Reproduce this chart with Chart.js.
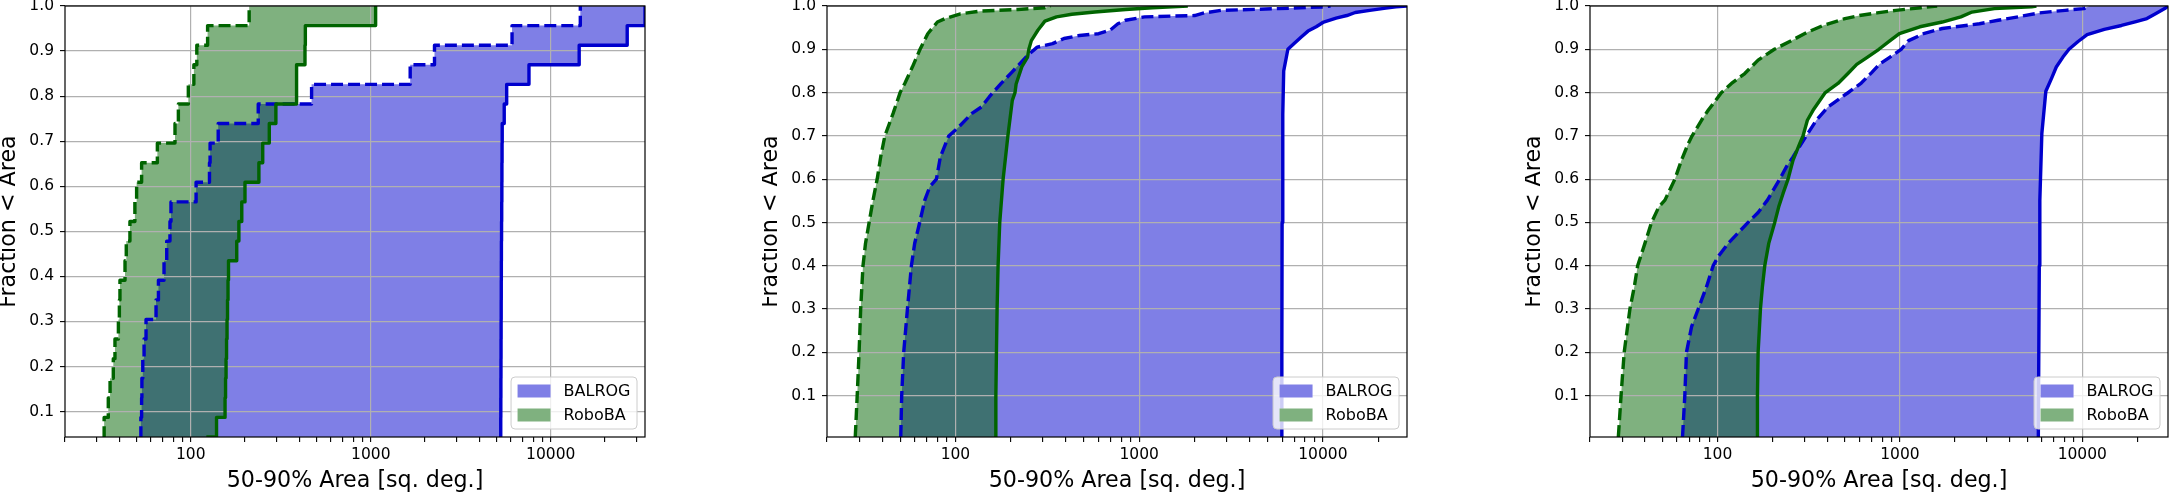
<!DOCTYPE html>
<html lang="en">
<head>
<meta charset="UTF-8">
<title>50-90% Area</title>
<script src="https://cdn.jsdelivr.net/npm/chart.js"></script>
<style>
  html, body { margin: 0; padding: 0; background: #fff; }
  body { width: 2170px; height: 493px; position: relative; overflow: hidden; }
  canvas { position: absolute; top: 0; }
</style>
</head>
<body>
<canvas id="panel1"></canvas>
<canvas id="panel2"></canvas>
<canvas id="panel3"></canvas>
<script>
// ---------------- data ----------------
const seriesNames = ['BALROG', 'RoboBA'];

const xTickValues = [20, 30, 40, 50, 60, 70, 80, 90,
  100, 200, 300, 400, 500, 600, 700, 800, 900,
  1000, 2000, 3000, 4000, 5000, 6000, 7000, 8000, 9000,
  10000, 20000, 30000];
const xMajorTicks = [100, 1000, 10000];
const yTickValues = [0.1, 0.2, 0.3, 0.4, 0.5, 0.6, 0.7, 0.8, 0.9, 1.0];

// panel 1: 23 events, step curves
const p1Frac = [0.0435, 0.0870, 0.1304, 0.1739, 0.2174, 0.2609, 0.3043, 0.3478, 0.3913, 0.4348,
  0.4783, 0.5217, 0.5652, 0.6087, 0.6522, 0.6957, 0.7391, 0.7826, 0.8261, 0.8696, 0.9130, 0.9565, 1.0];
const p1Balrog50 = [52.0, 52.8, 53.3, 53.5, 54.1, 55.0, 56.4, 64.1, 66.1, 71.0, 73.5, 76.6, 77.6,
  107, 127, 128, 142, 237, 469, 1656, 2260, 6095, 14600];
const p1Balrog90 = [5270, 5275, 5280, 5285, 5290, 5295, 5300, 5305, 5310, 5315, 5320, 5330, 5340,
  5350, 5355, 5365, 5375, 5515, 5690, 7570, 14390, 26600, 33400];
const p1Roboba50 = [32.5, 33.0, 34.8, 35.6, 37.1, 37.9, 39.6, 40.1, 40.4, 43.1, 43.8, 45.9, 48.9,
  50.0, 53.3, 65.2, 81.7, 85.3, 96.9, 104, 108, 124, 211];
const p1Roboba90 = [122, 139, 155, 156, 157, 158, 159, 160, 161, 162, 180, 185, 192,
  200, 239, 251, 273, 297, 387, 387, 431, 433, 1064];

// panel 2
const p2Balrog50Area = [50.4, 51.0, 52.3, 54.8, 57.6, 60.0, 63.9, 68.1, 72.5, 78.8, 82.8, 92, 103.9, 123,
  138.7, 152.7, 176.4, 203.8, 224.4, 247, 278.7, 338, 390, 473, 602, 695, 766, 843, 1072, 2005, 2260,
  2806, 5780, 10290, 11000];
const p2Balrog50Frac = [0.0046, 0.1, 0.2, 0.3, 0.4, 0.4515, 0.5, 0.5515, 0.5823, 0.6, 0.6515, 0.7, 0.72, 0.752,
  0.767, 0.79, 0.82, 0.848, 0.867, 0.886, 0.905, 0.913, 0.925, 0.932, 0.936, 0.944, 0.959, 0.967, 0.975, 0.978, 0.984,
  0.99, 0.994, 0.998, 1.0];
const p2Balrog90Area = [5950, 5980, 6000, 6050, 6120, 6450, 6950, 7600, 8300, 9200, 10100, 11800, 13500,
  15000, 18000, 22000, 25000, 28700];
const p2Balrog90Frac = [0.0046, 0.2, 0.5, 0.75, 0.85, 0.9, 0.913, 0.928, 0.942, 0.952, 0.963, 0.972, 0.978,
  0.985, 0.99, 0.995, 0.998, 1.0];
const p2Roboba50Area = [28.5, 29.2, 29.9, 30.5, 31.4, 32.4, 33.9, 35.6, 37.5, 39.2, 41.3, 45.8, 50.0, 53.0,
  58.3, 64.2, 70.7, 79.8, 87.9, 106.5, 135.5, 219, 307, 330];
const p2Roboba50Frac = [0.0046, 0.1, 0.2, 0.3, 0.4, 0.4515, 0.5, 0.5515, 0.6, 0.6515, 0.7, 0.752, 0.8, 0.821,
  0.859, 0.9, 0.936, 0.963, 0.971, 0.982, 0.988, 0.992, 0.996, 1.0];
const p2Roboba90Area = [165.8, 166.0, 167.2, 168.6, 170.7, 174.3, 181.8, 193, 204, 211, 214, 230, 247, 251,
  259, 281, 307, 355, 430, 574, 844, 1181, 1840];
const p2Roboba90Frac = [0.0046, 0.1, 0.2, 0.3, 0.4, 0.5, 0.6, 0.7, 0.782, 0.8, 0.82, 0.86, 0.882, 0.9,
  0.92, 0.944, 0.965, 0.975, 0.981, 0.986, 0.992, 0.996, 1.0];

// panel 3
const p3Balrog50Area = [64.3, 66.2, 67.6, 72.1, 78.4, 87.1, 94.7, 100.8, 114.4, 147.2, 167, 187.8, 219.4,
  238.7, 259.6, 288.4, 307, 348, 403.6, 517, 614, 700, 775, 883, 1016, 1117, 1348, 1707, 2731, 3453, 4583,
  5796, 8055, 10190, 10940];
const p3Balrog50Frac = [0.0042, 0.1, 0.2, 0.259, 0.3, 0.3515, 0.4, 0.4208, 0.4515, 0.5, 0.523, 0.5515, 0.6,
  0.6285, 0.6515, 0.6823, 0.7, 0.736, 0.767, 0.799, 0.822, 0.846, 0.866, 0.882, 0.9, 0.92, 0.936, 0.948, 0.959,
  0.967, 0.976, 0.984, 0.99, 0.994, 1.0];
const p3Balrog90Area = [5740, 5810, 5850, 6000, 6310, 6800, 7200, 7830, 8450, 9480, 10630, 13200, 16400,
  19700, 22600, 25200, 28300, 29500];
const p3Balrog90Frac = [0.0042, 0.4, 0.55, 0.705, 0.803, 0.834, 0.859, 0.882, 0.9, 0.918, 0.934, 0.946, 0.955,
  0.964, 0.971, 0.982, 0.994, 1.0];
const p3Roboba50Area = [28.6, 29.6, 30.8, 33.1, 35.0, 36.5, 40.0, 43.5, 47.7, 51.5, 58.4, 63.5, 69.1, 72.6,
  81.7, 88.9, 105.2, 119.3, 141.1, 167, 205, 254, 313, 380, 500, 600, 750, 950, 1300, 1600];
const p3Roboba50Frac = [0.0042, 0.1, 0.2, 0.3, 0.3515, 0.4, 0.4515, 0.5, 0.536, 0.5515, 0.6, 0.644, 0.682, 0.7,
  0.736, 0.759, 0.8, 0.821, 0.844, 0.875, 0.9, 0.92, 0.94, 0.955, 0.971, 0.978, 0.984, 0.99, 0.996, 1.0];
const p3Roboba90Area = [164.9, 165.6, 167, 172, 176.3, 181.6, 191, 206, 216.6, 228.8, 243.7, 259.6, 282.3,
  294.4, 311, 334, 390, 457.7, 519, 580, 665, 767, 883, 993, 1286, 1706, 2160, 2486, 3295, 5270, 5600];
const p3Roboba90Frac = [0.0042, 0.1, 0.2, 0.3, 0.3515, 0.4, 0.4515, 0.5, 0.536, 0.567, 0.6, 0.644, 0.682,
  0.7, 0.736, 0.759, 0.8, 0.821, 0.844, 0.865, 0.882, 0.9, 0.92, 0.936, 0.952, 0.963, 0.975, 0.986, 0.994, 0.998, 1.0];

// ---------------- styling ----------------
const balrogLine = 'rgb(0,0,205)';
const balrogFill = 'rgba(0,0,205,0.5)';
const robobaLine = 'rgb(0,100,0)';
const robobaFill = 'rgba(0,100,0,0.5)';

Chart.defaults.font.family = '"DejaVu Sans", sans-serif';
Chart.defaults.color = '#000';

function pts(area, frac) {
  return area.map((a, i) => ({ x: a, y: frac[i] }));
}

// black box round the plot area
const framePlugin = {
  id: 'frame',
  afterDatasetsDraw(chart) {
    const { ctx, chartArea: a } = chart;
    ctx.save();
    ctx.strokeStyle = '#000';
    ctx.lineWidth = 1.2;
    ctx.strokeRect(a.left, a.top, a.right - a.left, a.bottom - a.top);
    ctx.restore();
  }
};

// matplotlib-like legend box, lower right
const legendPlugin = {
  id: 'boxLegend',
  afterDraw(chart) {
    const { ctx, chartArea: a } = chart;
    const colors = [balrogFill, robobaFill];
    ctx.save();
    ctx.font = '16px "DejaVu Sans"';
    const textW = Math.max(...seriesNames.map(s => ctx.measureText(s).width));
    const pad = 6.5, handleW = 33, gap = 13;
    const w = pad + handleW + gap + textW + pad;
    const h = 52;
    const x = a.right - 8 - w;
    const y = a.bottom - 8 - h;
    ctx.beginPath();
    ctx.roundRect(x, y, w, h, 4);
    ctx.fillStyle = 'rgba(255,255,255,0.8)';
    ctx.fill();
    ctx.strokeStyle = '#cccccc';
    ctx.lineWidth = 1;
    ctx.stroke();
    seriesNames.forEach((name, i) => {
      const cy = y + 14 + i * 24;
      ctx.fillStyle = '#fff';
      ctx.fillRect(x + pad, cy - 6.5, handleW, 13);
      ctx.fillStyle = colors[i];
      ctx.fillRect(x + pad, cy - 6.5, handleW, 13);
      ctx.fillStyle = '#000';
      ctx.textBaseline = 'middle';
      ctx.fillText(name, x + pad + handleW + gap, cy + 1);
    });
    ctx.restore();
  }
};

function makePanel(id, plotLeft, plotWidth, yMin, xMax, curves, stepped) {
  const canvas = document.getElementById(id);
  const rightPad = Math.min(10, 2170 - (plotLeft + plotWidth));
  canvas.width = 65 + plotWidth + rightPad;
  canvas.height = 493;
  canvas.style.left = (plotLeft - 65) + 'px';

  const common = { pointRadius: 0, borderWidth: 3.4, borderJoinStyle: 'round', tension: 0, stepped: stepped };

  return new Chart(canvas, {
    type: 'line',
    data: {
      datasets: [
        Object.assign({ data: curves.roboba50, borderColor: robobaLine, borderDash: [12, 5],
          backgroundColor: robobaFill, fill: '+1' }, common),
        Object.assign({ data: curves.roboba90, borderColor: robobaLine, fill: false }, common),
        Object.assign({ data: curves.balrog50, borderColor: balrogLine, borderDash: [12, 5],
          backgroundColor: balrogFill, fill: '+1' }, common),
        Object.assign({ data: curves.balrog90, borderColor: balrogLine, fill: false }, common)
      ]
    },
    options: {
      indexAxis: 'y',
      responsive: false,
      animation: false,
      devicePixelRatio: 1,
      layout: { padding: { top: 6, left: 0, right: rightPad, bottom: 0 } },
      plugins: {
        legend: { display: false },
        tooltip: { enabled: false },
        filler: { drawTime: 'beforeDraw' }
      },
      scales: {
        x: {
          type: 'logarithmic',
          min: 20,
          max: xMax,
          afterBuildTicks: s => {
            s.ticks = xTickValues.filter(v => v >= s.min && v <= s.max).map(v => ({ value: v }));
          },
          afterFit: s => { s.height = 56; s.paddingLeft = 0; s.paddingRight = 0; },
          ticks: {
            autoSkip: false, maxRotation: 0, minRotation: 0, padding: 4,
            font: { size: 15.5 },
            callback: v => xMajorTicks.includes(v) ? String(v) : ''
          },
          grid: {
            color: c => xMajorTicks.includes(c.tick.value) ? '#b0b0b0' : 'rgba(0,0,0,0)',
            lineWidth: 1.2, tickLength: 5, tickColor: '#000', tickWidth: 1.1
          },
          border: { display: false },
          title: { display: true, text: '50-90% Area [sq. deg.]', font: { size: 22.2, lineHeight: 1.0 },
            padding: { top: 0, bottom: 1 } }
        },
        y: {
          type: 'linear',
          min: yMin,
          max: 1.0,
          afterBuildTicks: s => { s.ticks = yTickValues.map(v => ({ value: v })); },
          afterFit: s => { s.width = 65; s.paddingTop = 0; s.paddingBottom = 0; },
          ticks: { padding: 6, font: { size: 15.5 }, callback: v => v.toFixed(1) },
          grid: { color: '#b0b0b0', lineWidth: 1.2, tickLength: 5, tickColor: '#000', tickWidth: 1.1 },
          border: { display: false },
          title: { display: true, text: 'Fraction < Area', font: { size: 22.2, lineHeight: 0.86 },
            padding: { top: 0, bottom: 0 } }
        }
      }
    },
    plugins: [framePlugin, legendPlugin]
  });
}

makePanel('panel1', 65, 580, p1Frac[0], 33400, {
  balrog50: pts(p1Balrog50, p1Frac), balrog90: pts(p1Balrog90, p1Frac),
  roboba50: pts(p1Roboba50, p1Frac), roboba90: pts(p1Roboba90, p1Frac)
}, true);

makePanel('panel2', 827, 580, p2Balrog50Frac[0], 28700, {
  balrog50: pts(p2Balrog50Area, p2Balrog50Frac), balrog90: pts(p2Balrog90Area, p2Balrog90Frac),
  roboba50: pts(p2Roboba50Area, p2Roboba50Frac), roboba90: pts(p2Roboba90Area, p2Roboba90Frac)
}, false);

makePanel('panel3', 1590, 578, p3Balrog50Frac[0], 29500, {
  balrog50: pts(p3Balrog50Area, p3Balrog50Frac), balrog90: pts(p3Balrog90Area, p3Balrog90Frac),
  roboba50: pts(p3Roboba50Area, p3Roboba50Frac), roboba90: pts(p3Roboba90Area, p3Roboba90Frac)
}, false);
</script>
</body>
</html>
